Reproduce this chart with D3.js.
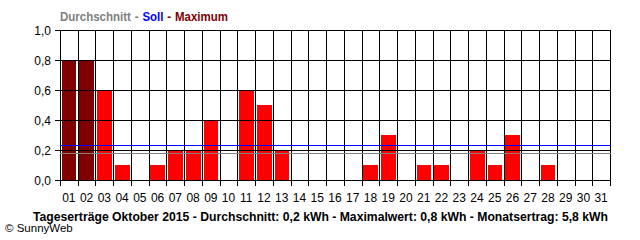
<!DOCTYPE html>
<html><head><meta charset="utf-8">
<script src="https://cdn.jsdelivr.net/npm/d3@7"></script>
<style>
html,body{margin:0;padding:0;background:#fff;}
svg{display:block;}
text{font-family:"Liberation Sans",Arial,sans-serif;}
</style></head>
<body>
<script>
const days = ["01","02","03","04","05","06","07","08","09","10","11","12","13","14","15","16","17","18","19","20","21","22","23","24","25","26","27","28","29","30","31"];
const yields = [0.8,0.8,0.6,0.1,0,0.1,0.2,0.2,0.4,0,0.6,0.5,0.2,0,0,0,0,0.1,0.3,0,0.1,0.1,0,0.2,0.1,0.3,0,0.1,0,0,0];
const yTicks = [0,0.2,0.4,0.6,0.8,1.0];
const sollValue = 0.233;
const avgValue = 0.18;
const maxValue = 0.8;
const legendParts = [["Durchschnitt","#808080"],["-","#808080"],["Soll","#0000ff"],["-","#800000"],["Maximum","#800000"]];
const footer = "Tageserträge Oktober 2015 - Durchschnitt: 0,2 kWh - Maximalwert: 0,8 kWh - Monatsertrag: 5,8 kWh";
const credit = "© SunnyWeb";

const W=640,H=240, L=60, R=610, T=30, B=180;
const svg = d3.select("body").append("svg").attr("width",W).attr("height",H);
const x = d3.scaleBand().domain(days).range([L,R]).paddingInner(0).paddingOuter(0);
const y = d3.scaleLinear().domain([0,1]).range([B,T]);
const bw = x.bandwidth();

// bars
svg.append("g").selectAll("rect").data(days.map((d,i)=>({d,v:yields[i]})).filter(o=>o.v>0))
  .join("rect")
  .attr("x",o=>Math.round(x(o.d)+1.7))
  .attr("width",o=>Math.round(x(o.d)+bw-1.3)-Math.round(x(o.d)+1.7))
  .attr("y",o=>Math.round(y(o.v)))
  .attr("height",o=>B-Math.round(y(o.v)))
  .attr("fill",o=>o.v>=maxValue?"#800000":"#ff0000");

// horizontal grid + y ticks
const gy = svg.append("g");
gy.selectAll("line").data(yTicks).join("line")
  .attr("x1",55).attr("x2",R+0.5)
  .attr("y1",d=>Math.round(y(d))+0.5).attr("y2",d=>Math.round(y(d))+0.5)
  .attr("stroke","#000").attr("stroke-width",1).attr("shape-rendering","crispEdges");
gy.selectAll("text").data(yTicks).join("text")
  .attr("x",51).attr("y",d=>Math.round(y(d))+4.5)
  .attr("text-anchor","end").attr("font-size","12px").attr("fill","#000")
  .text(d=>d3.format(".1f")(d).replace(".",","));

// vertical grid + x ticks
const bounds = days.map(d=>x(d)).concat([R]);
svg.append("g").selectAll("line").data(bounds).join("line")
  .attr("x1",d=>Math.round(d)+0.5).attr("x2",d=>Math.round(d)+0.5)
  .attr("y1",T).attr("y2",B+6)
  .attr("stroke","#000").attr("stroke-width",1).attr("shape-rendering","crispEdges");
svg.append("g").selectAll("text").data(days).join("text")
  .attr("x",d=>x(d)+bw/2).attr("y",202)
  .attr("text-anchor","middle").attr("font-size","12px").attr("fill","#000")
  .text(d=>d);

// soll / average lines
svg.append("line").attr("x1",L).attr("x2",R+1)
  .attr("y1",Math.round(y(sollValue))+0.5).attr("y2",Math.round(y(sollValue))+0.5)
  .attr("stroke","#0000ff").attr("shape-rendering","crispEdges");
svg.append("line").attr("x1",L).attr("x2",R+1)
  .attr("y1",Math.round(y(avgValue))+0.5).attr("y2",Math.round(y(avgValue))+0.5)
  .attr("stroke","#808080").attr("shape-rendering","crispEdges");

// legend title: separate words laid out side by side with gaps, scaled to 168px total
const lg = svg.append("g");
const pieces = legendParts.map(p=>lg.append("text").attr("y",21).attr("font-size","12px")
  .attr("font-weight","bold").attr("fill",p[1]).text(p[0]));
const widths = pieces.map(t=>t.node().getComputedTextLength());
const gap = 4;
const total = widths.reduce((a,b)=>a+b,0) + gap*(pieces.length-1);
const k = 168/total;
let cx = 60;
pieces.forEach((t,i)=>{
  const w = widths[i]*k;
  t.attr("x",cx).attr("textLength",w).attr("lengthAdjust","spacingAndGlyphs");
  cx += w + gap*k;
});

// footer
svg.append("text").attr("x",33).attr("y",221).attr("font-size","12.5px").attr("font-weight","bold")
  .attr("fill","#000").attr("textLength",575).attr("lengthAdjust","spacingAndGlyphs").text(footer);
svg.append("text").attr("x",5).attr("y",232).attr("font-size","11.5px").attr("fill","#000").text(credit);
</script>
</body></html>
